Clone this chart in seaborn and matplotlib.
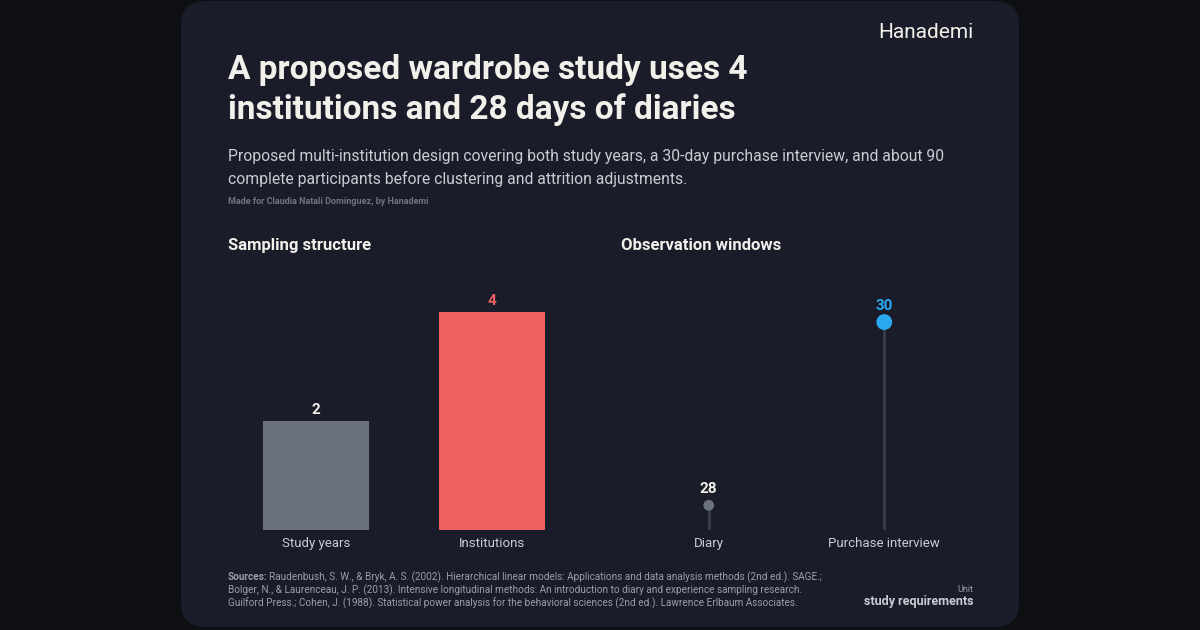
import matplotlib
matplotlib.use('Agg')
import matplotlib.pyplot as plt
import seaborn as sns
import pandas as pd
from matplotlib.patches import FancyBboxPatch

sampling_labels = ['Study years', 'Institutions']
sampling_values = [2, 4]
window_labels = ['Diary', 'Purchase interview']
window_values = [28, 30]

BG = '#0e0f13'
CARD = '#1a1d29'
TXT = '#f2f0ea'
MUTED = '#c9ccd3'
DIM = '#6f7480'

sns.set_theme(style='dark')
plt.rcParams['font.family'] = ['Roboto', 'DejaVu Sans']

W, H = 1200, 630
fig = plt.figure(figsize=(12, 6.3), dpi=100, facecolor=BG)

def fx(px): return px / W
def fy(py): return 1 - py / H

card = FancyBboxPatch((fx(181), fy(627)), fx(838), 626 / H,
                      boxstyle='round,pad=0,rounding_size=0.02',
                      transform=fig.transFigure, facecolor=CARD,
                      edgecolor='none', mutation_aspect=W / H, zorder=-10)
fig.patches.append(card)

fig.text(fx(973), fy(33), 'Hanademi', color=TXT, fontsize=15, ha='right', va='center')
fig.text(fx(228), fy(90), 'A proposed wardrobe study uses 4\ninstitutions and 28 days of diaries',
         color=TXT, fontsize=24, fontweight='bold', ha='left', va='center', linespacing=1.25)
fig.text(fx(228), fy(168), 'Proposed multi-institution design covering both study years, a 30-day purchase interview, and about 90\n'
         'complete participants before clustering and attrition adjustments.',
         color=MUTED, fontsize=11.3, ha='left', va='center', linespacing=1.5)
fig.text(fx(228), fy(201), 'Made for Claudia Natalí Domínguez, by Hanademi', color=DIM,
         fontsize=6.5, fontweight='bold', ha='left', va='center')
fig.text(fx(228), fy(246), 'Sampling structure', color=TXT, fontsize=12, fontweight='bold', va='center')
fig.text(fx(621), fy(246), 'Observation windows', color=TXT, fontsize=12, fontweight='bold', va='center')

top, bot = 290, 530
# left: bars
ax1 = fig.add_axes([fx(228), fy(bot), fx(580 - 228), (bot - top) / H])
df1 = pd.DataFrame({'label': sampling_labels, 'value': sampling_values})
sns.barplot(data=df1, x='label', y='value', hue='label', palette=['#6b717e', '#f06060'],
            width=0.6, legend=False, ax=ax1, saturation=1)
for p in ax1.patches:
    p.set_edgecolor('none')
ax1.set_ylim(0, 4.4)
for i, v in enumerate(sampling_values):
    ax1.text(i, v + 0.07, str(v), ha='center', va='bottom', fontsize=11, fontweight='bold',
             color=TXT if i == 0 else '#f06060')

# right: lollipops
ax2 = fig.add_axes([fx(621), fy(bot), fx(972 - 621), (bot - top) / H])
df2 = pd.DataFrame({'label': window_labels, 'value': window_values})
lo = 27.73
colors = ['#6b717e', '#2aa8f0']
for i, v in enumerate(window_values):
    ax2.vlines(i, lo, v, color='#3a3e4a', lw=2)
sns.scatterplot(data=df2, x='label', y='value', hue='label', palette=colors, size='label',
                sizes={window_labels[0]: 60, window_labels[1]: 130},
                legend=False, ax=ax2, edgecolor='none', zorder=3)
ax2.set_ylim(lo, 30.35)
ax2.set_xlim(-0.5, 1.5)
for i, v in enumerate(window_values):
    ax2.text(i, v + 0.1, str(v), ha='center', va='bottom', fontsize=11, fontweight='bold',
             color=TXT if i == 0 else '#2aa8f0')

for ax in (ax1, ax2):
    ax.set_facecolor('none')
    ax.set_xlabel('')
    ax.set_ylabel('')
    ax.set_yticks([])
    ax.tick_params(axis='x', colors=MUTED, labelsize=9.5, length=0, pad=5)
    for s in ax.spines.values():
        s.set_visible(False)

src_col = '#9a9ea8'
fig.text(fx(228), fy(577), 'Sources:', color=src_col, fontsize=7.2, fontweight='bold', ha='left', va='center')
fig.text(fx(269), fy(577), 'Raudenbush, S. W., & Bryk, A. S. (2002). Hierarchical linear models: Applications and data analysis methods (2nd ed.). SAGE.;',
         color=src_col, fontsize=7.2, ha='left', va='center')
fig.text(fx(228), fy(590), 'Bolger, N., & Laurenceau, J. P. (2013). Intensive longitudinal methods: An introduction to diary and experience sampling research.',
         color=src_col, fontsize=7.2, ha='left', va='center')
fig.text(fx(228), fy(603), 'Guilford Press.; Cohen, J. (1988). Statistical power analysis for the behavioral sciences (2nd ed.). Lawrence Erlbaum Associates.',
         color=src_col, fontsize=7.2, ha='left', va='center')
fig.text(fx(973), fy(589), 'Unit', color=src_col, fontsize=6.5, ha='right', va='center')
fig.text(fx(973), fy(602), 'study requirements', color=MUTED, fontsize=9, fontweight='bold', ha='right', va='center')

fig.savefig('out.png', dpi=100, facecolor=BG)
